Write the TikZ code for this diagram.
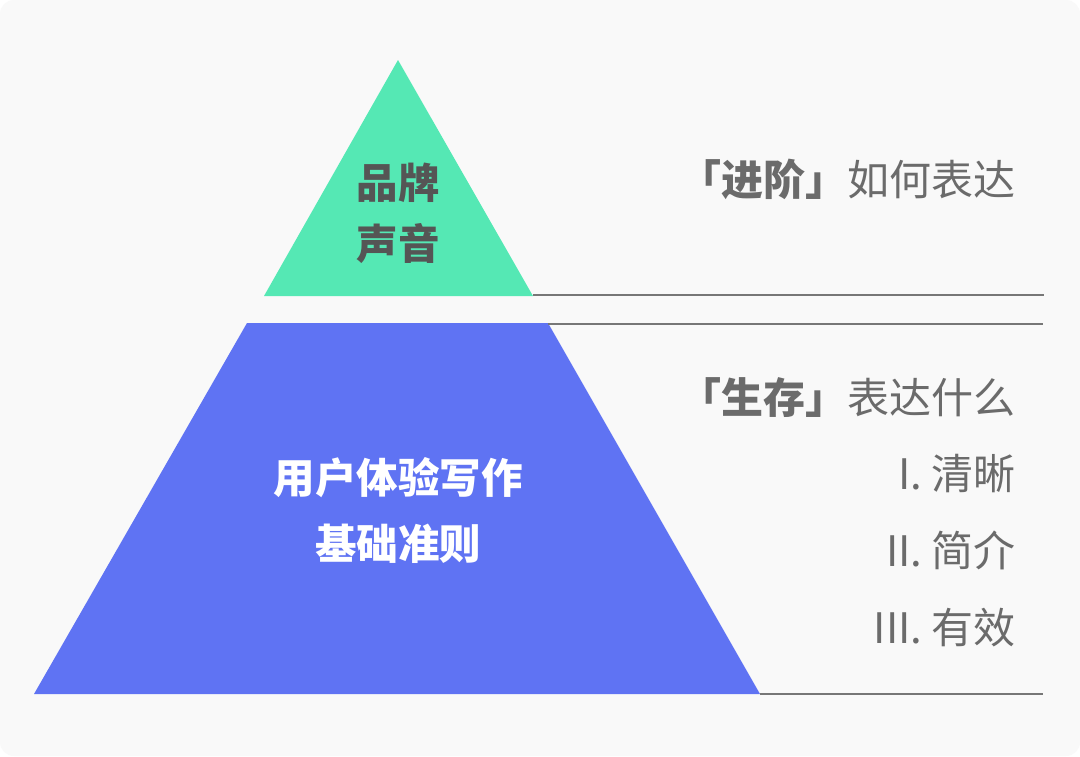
\documentclass[tikz,border=0pt]{standalone}
\usepackage{fontspec}
\setmainfont{Noto Sans CJK SC}
\definecolor{bgc}{HTML}{F9F9F9}
\definecolor{greenc}{HTML}{55E8B4}
\definecolor{bluec}{HTML}{5F73F3}
\definecolor{darktxt}{HTML}{555555}
\definecolor{graytxt}{HTML}{6B6B6B}
\definecolor{linec}{HTML}{777777}
\begin{document}
\begin{tikzpicture}[x=1pt,y=-1pt,
  lbl/.style={inner sep=0pt, font=\fontsize{42}{48}\selectfont},
  rtxt/.style={lbl, anchor=base east, text=graytxt},
  sepline/.style={draw=linec, line width=1.2pt}]
\useasboundingbox (0,0) rectangle (1080,756);
\fill[white] (0,0) rectangle (1080,756);
\fill[bgc, rounded corners=14pt] (0,0) rectangle (1080,756);
% shapes
\fill[greenc] (398,60) -- (533,296) -- (264,296) -- cycle;
\fill[bluec] (247,323) -- (548,323) -- (760,694) -- (34,694) -- cycle;
\coordinate (g1) at (533,295);
\coordinate (g2) at (1044,295);
\coordinate (b1) at (548,324);
\coordinate (b2) at (1043,324);
\coordinate (c1) at (760,694);
\coordinate (c2) at (1043,694);
\draw[sepline] (g1) -- (g2);
\draw[sepline] (b1) -- (b2);
\draw[sepline] (c1) -- (c2);
% labels in shapes
\node[lbl, anchor=base, text=darktxt, font=\fontsize{41.5}{48}\selectfont\bfseries] (pp) at (398,198) {品牌};
\node[lbl, anchor=base, text=darktxt, font=\fontsize{41.5}{48}\selectfont\bfseries] (sy) at (398,259) {声音};
\node[lbl, anchor=base, text=white, font=\fontsize{41.5}{48}\selectfont\bfseries] (yh) at (398,493) {用户体验写作};
\node[lbl, anchor=base, text=white, font=\fontsize{41.5}{48}\selectfont\bfseries] (jc) at (398,559) {基础准则};
% right texts
\node[rtxt] (t1) at (1016,195) {{\bfseries 「进阶」}如何表达};
\node[rtxt] (t2) at (1016,413) {{\bfseries 「生存」}表达什么};
\node[rtxt] (t3) at (1016,489) {I. 清晰};
\node[rtxt] (t4) at (1016,566) {II. 简介};
\node[rtxt] (t5) at (1016,643) {III. 有效};
\end{tikzpicture}
\end{document}
